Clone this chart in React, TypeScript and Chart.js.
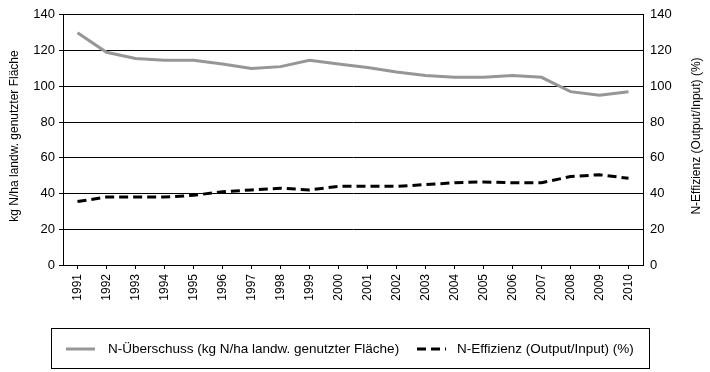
import React, { useEffect, useRef } from "react";
import { Chart, registerables } from "chart.js";

Chart.register(...registerables);

const years = ["1991","1992","1993","1994","1995","1996","1997","1998","1999","2000","2001","2002","2003","2004","2005","2006","2007","2008","2009","2010"];
const surplus = [130, 119, 115.5, 114.5, 114.5, 112.5, 110, 111, 114.5, 112.5, 110.5, 108, 106, 105, 105, 106, 105, 97, 95, 97];
const efficiency = [35.5, 38, 38, 38, 39, 41, 42, 43, 42, 44, 44, 44, 45, 46, 46.5, 46, 46, 49.5, 50.5, 48.5];
const yTicks = [0, 20, 40, 60, 80, 100, 120, 140];
const surplusLabel = "N-Überschuss (kg N/ha landw. genutzter Fläche)";
const efficiencyLabel = "N-Effizienz (Output/Input) (%)";
const leftTitle = "kg N/ha landw. genutzter Fläche";
const rightTitle = "N-Effizienz (Output/Input) (%)";

const FONT = "'Liberation Sans', Arial, sans-serif";
const GREY = "#969696";

const decorPlugin = {
  id: "decor",
  afterDraw(chart: any) {
    const ctx = chart.ctx;
    ctx.save();
    // axis titles
    ctx.fillStyle = "#000";
    ctx.font = `12px ${FONT}`;
    ctx.textAlign = "center";
    ctx.textBaseline = "middle";
    const midY = 136;
    ctx.save();
    ctx.translate(15, midY);
    ctx.rotate(-Math.PI / 2);
    ctx.fillText(leftTitle, 0, 0);
    ctx.restore();
    ctx.save();
    ctx.translate(697, midY);
    ctx.rotate(-Math.PI / 2);
    ctx.fillText(rightTitle, 0, 0);
    ctx.restore();

    // legend box
    const bx = 51.5, by = 328.5, bw = 598, bh = 40;
    ctx.strokeStyle = "#000";
    ctx.lineWidth = 1;
    ctx.setLineDash([]);
    ctx.strokeRect(bx, by, bw, bh);
    const ly = 349;
    ctx.lineWidth = 3;
    ctx.strokeStyle = GREY;
    ctx.beginPath();
    ctx.moveTo(66, ly);
    ctx.lineTo(95, ly);
    ctx.stroke();
    ctx.strokeStyle = "#000";
    ctx.setLineDash([9, 5]);
    ctx.beginPath();
    ctx.moveTo(417, ly);
    ctx.lineTo(446, ly);
    ctx.stroke();
    ctx.setLineDash([]);
    ctx.fillStyle = "#000";
    ctx.font = `13.5px ${FONT}`;
    ctx.textAlign = "left";
    ctx.textBaseline = "middle";
    ctx.fillText(surplusLabel, 108, ly);
    ctx.fillText(efficiencyLabel, 457, ly);
    ctx.restore();
  },
};

export default function App() {
  const ref = useRef<HTMLCanvasElement | null>(null);
  useEffect(() => {
    document.body.style.margin = "0";
    const canvas = ref.current!;
    const chart = new Chart(canvas, {
      type: "line",
      data: {
        labels: years,
        datasets: [
          {
            label: surplusLabel,
            data: surplus,
            borderColor: GREY,
            borderWidth: 3,
            pointRadius: 0,
            tension: 0,
            yAxisID: "y",
          },
          {
            label: efficiencyLabel,
            data: efficiency,
            borderColor: "#000",
            borderWidth: 3,
            borderDash: [9, 5],
            pointRadius: 0,
            tension: 0,
            yAxisID: "y2",
          },
        ],
      },
      options: {
        animation: false,
        responsive: false,
        devicePixelRatio: 1,
        layout: { padding: { top: 14, left: 0, right: 0, bottom: 0 } },
        plugins: { legend: { display: false }, tooltip: { enabled: false } },
        scales: {
          x: {
            type: "category",
            offset: true,
            grid: { display: true, drawOnChartArea: false, drawTicks: true, tickLength: 4, color: "#000", offset: false },
            border: { display: true, color: "#000", width: 1 },
            ticks: {
              color: "#000",
              font: { family: FONT, size: 12 },
              maxRotation: 90,
              minRotation: 90,
              padding: 5,
              autoSkip: false,
            },
            afterFit(scale: any) { scale.height = 107; },
          },
          y: {
            position: "left",
            min: 0,
            max: 140,
            afterBuildTicks(scale: any) { scale.ticks = yTicks.map((v) => ({ value: v })); },
            grid: { color: "#000", lineWidth: 1, drawTicks: true, tickLength: 4 },
            border: { display: true, color: "#000", width: 1 },
            ticks: { color: "#000", font: { family: FONT, size: 13 }, padding: 4 },
            afterFit(scale: any) { scale.width = 63; },
          },
          y2: {
            position: "right",
            min: 0,
            max: 140,
            afterBuildTicks(scale: any) { scale.ticks = yTicks.map((v) => ({ value: v })); },
            grid: { drawOnChartArea: false, drawTicks: false },
            border: { display: true, color: "#000", width: 1 },
            ticks: { color: "#000", font: { family: FONT, size: 13 }, padding: 7 },
            afterFit(scale: any) { scale.width = 67; },
          },
        },
      },
      plugins: [decorPlugin],
    } as any);
    return () => chart.destroy();
  }, []);
  return (
    <div style={{ position: "absolute", left: 0, top: 0, width: 710, height: 372, background: "#fff" }}>
      <canvas ref={ref} width={710} height={372} style={{ width: 710, height: 372, display: "block" }} />
    </div>
  );
}
